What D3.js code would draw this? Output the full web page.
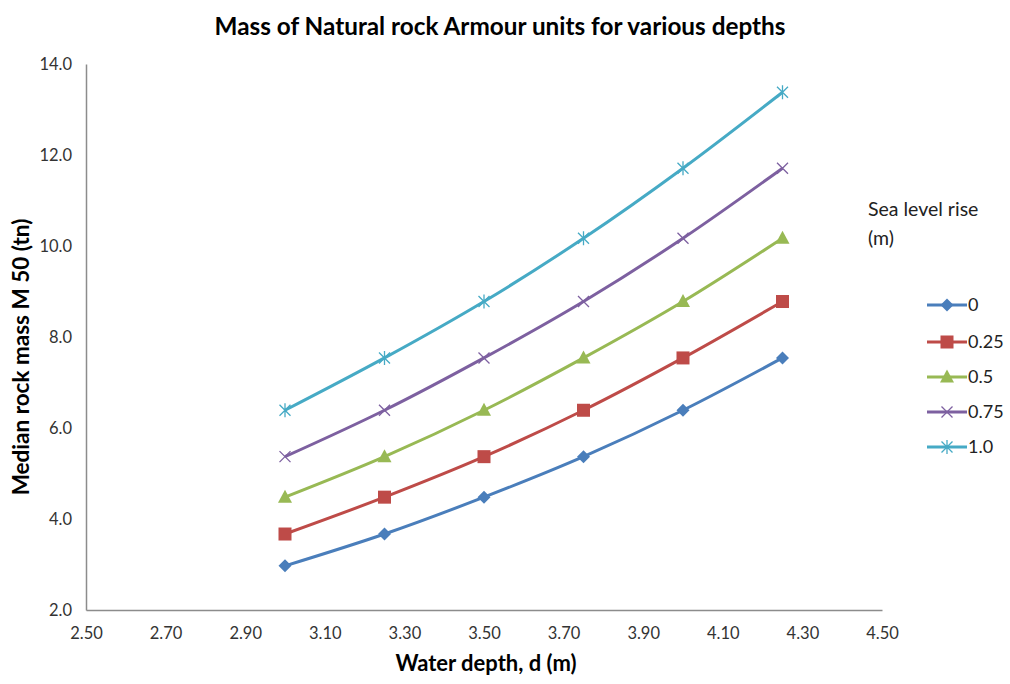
<!DOCTYPE html>
<html>
<head>
<meta charset="utf-8">
<script src="https://cdn.jsdelivr.net/npm/d3@7"></script>
<style>
  html, body { margin: 0; padding: 0; background: #fff; }
  svg { display: block; font-family: Lato, "Open Sans", sans-serif; }
</style>
</head>
<body>
<svg id="chart" width="1010" height="684"></svg>
<script>
// Water depth d (m) at which each mass was computed
const depths = [3.00, 3.25, 3.50, 3.75, 4.00, 4.25];

// Median rock mass M50 (tn) for each sea level rise scenario
const slr0    = [2.97, 3.67, 4.48, 5.37, 6.39, 7.54];
const slr025  = [3.67, 4.48, 5.37, 6.39, 7.54, 8.78];
const slr05   = [4.48, 5.37, 6.39, 7.54, 8.78, 10.17];
const slr075  = [5.37, 6.39, 7.54, 8.78, 10.17, 11.71];
const slr10   = [6.39, 7.54, 8.78, 10.17, 11.71, 13.38];

const seriesNames = ["0", "0.25", "0.5", "0.75", "1.0"];
const seriesValues = [slr0, slr025, slr05, slr075, slr10];
const seriesColors = ["#4a7ebb", "#be4b48", "#98b954", "#7d60a0", "#46aac5"];
const seriesMarkers = ["diamond", "square", "triangle", "x", "star"];

const xTicks = [2.50, 2.70, 2.90, 3.10, 3.30, 3.50, 3.70, 3.90, 4.10, 4.30, 4.50];
const yTicks = [2.0, 4.0, 6.0, 8.0, 10.0, 12.0, 14.0];

const svg = d3.select("#chart");
const plot = { left: 86, right: 882, top: 64, bottom: 610 };

const x = d3.scaleLinear().domain([2.5, 4.5]).range([plot.left, plot.right]);
const y = d3.scaleLinear().domain([2, 14]).range([plot.bottom, plot.top]);

// Title
svg.append("text")
  .attr("x", 500).attr("y", 35)
  .attr("text-anchor", "middle")
  .attr("font-size", 24.3).attr("font-weight", "bold")
  .attr("fill", "#000")
  .text("Mass of Natural rock Armour units for various depths");

// Axes
const xAxis = d3.axisBottom(x).tickValues(xTicks).tickSize(0).tickPadding(17)
  .tickFormat(d3.format(".2f"));
const yAxis = d3.axisLeft(y).tickValues(yTicks).tickSize(0).tickPadding(14)
  .tickFormat(d3.format(".1f"));

const gx = svg.append("g").attr("transform", `translate(0,${plot.bottom})`).call(xAxis);
const gy = svg.append("g").attr("transform", `translate(${plot.left},0)`).call(yAxis);

[gx, gy].forEach(g => {
  g.select(".domain").attr("stroke", "#8c8c8c").attr("stroke-width", 1.5);
  g.selectAll("text").attr("font-size", 16.5).attr("fill", "#333")
    .attr("font-family", "Lato, sans-serif");
});

// Axis titles
svg.append("text")
  .attr("x", 486).attr("y", 671)
  .attr("text-anchor", "middle")
  .attr("font-size", 22).attr("font-weight", "bold")
  .text("Water depth, d (m)");

svg.append("text")
  .attr("transform", "translate(29,357) rotate(-90)")
  .attr("text-anchor", "middle")
  .attr("font-size", 22.5).attr("font-weight", "bold")
  .text("Median rock mass M 50 (tn)");

// Marker drawing
function drawMarker(g, type, color) {
  switch (type) {
    case "diamond":
      g.append("path").attr("d", "M0,-6.5L6.5,0L0,6.5L-6.5,0Z").attr("fill", color);
      break;
    case "square":
      g.append("rect").attr("x", -6.5).attr("y", -6.5).attr("width", 13).attr("height", 13)
        .attr("fill", color);
      break;
    case "triangle":
      g.append("path").attr("d", "M0,-7.5L7,5.5L-7,5.5Z").attr("fill", color);
      break;
    case "x":
      g.append("path").attr("d", "M-5.5,-5.5L5.5,5.5M-5.5,5.5L5.5,-5.5")
        .attr("stroke", color).attr("stroke-width", 1.3).attr("fill", "none");
      break;
    case "star":
      g.append("path").attr("d", "M-5.5,-5.5L5.5,5.5M-5.5,5.5L5.5,-5.5M0,-7L0,7")
        .attr("stroke", color).attr("stroke-width", 1.3).attr("fill", "none");
      break;
  }
}

const line = d3.line()
  .x(d => x(d[0]))
  .y(d => y(d[1]))
  .curve(d3.curveCatmullRom.alpha(0));

seriesValues.forEach((vals, i) => {
  const pts = depths.map((d, j) => [d, vals[j]]);
  svg.append("path")
    .datum(pts)
    .attr("d", line)
    .attr("fill", "none")
    .attr("stroke", seriesColors[i])
    .attr("stroke-width", 3)
    .attr("stroke-linejoin", "round");
  svg.append("g").selectAll("g")
    .data(pts)
    .join("g")
    .attr("transform", d => `translate(${x(d[0])},${y(d[1])})`)
    .each(function () { drawMarker(d3.select(this), seriesMarkers[i], seriesColors[i]); });
});

// Legend
const legend = svg.append("g");
legend.append("text").attr("x", 868).attr("y", 216).attr("font-size", 19.5).attr("fill", "#222")
  .text("Sea level rise");
legend.append("text").attr("x", 868).attr("y", 245).attr("font-size", 19.5).attr("fill", "#222")
  .text("(m)");

const legendY = [305, 342, 377, 412, 447];
seriesNames.forEach((name, i) => {
  const g = legend.append("g").attr("transform", `translate(0,${legendY[i]})`);
  g.append("line").attr("x1", 927).attr("x2", 967).attr("y1", 0).attr("y2", 0)
    .attr("stroke", seriesColors[i]).attr("stroke-width", 3);
  const m = g.append("g").attr("transform", "translate(947,0)");
  drawMarker(m, seriesMarkers[i], seriesColors[i]);
  g.append("text").attr("x", 968).attr("y", 6).attr("font-size", 18).attr("fill", "#222")
    .text(name);
});
</script>
</body>
</html>
